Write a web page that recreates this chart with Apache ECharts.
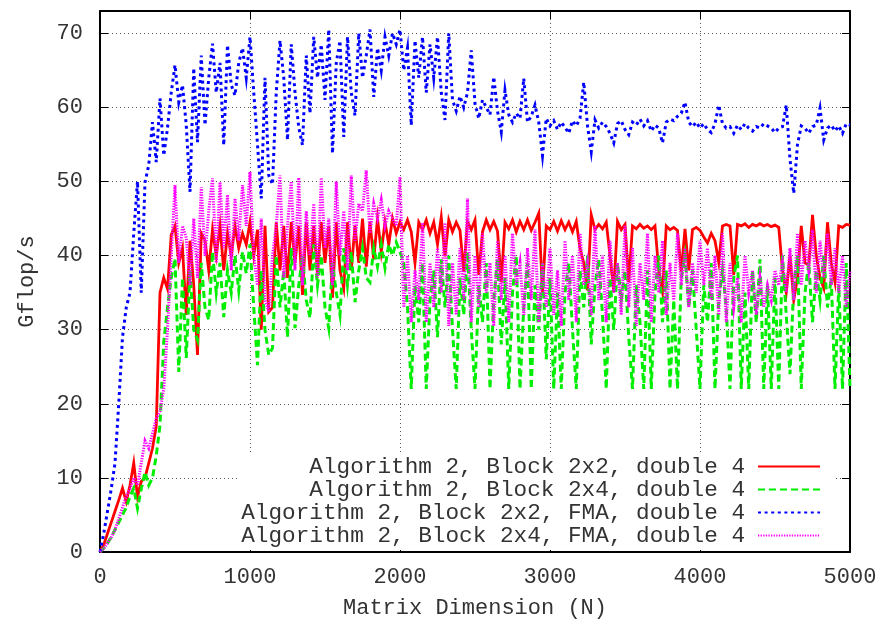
<!DOCTYPE html>
<html><head><meta charset="utf-8">
<script src="https://cdn.jsdelivr.net/npm/echarts@6/dist/echarts.min.js"></script>
<style>html,body{margin:0;padding:0;background:#fff}#c{width:883px;height:620px}</style>
</head><body><div id="c"></div>
<script>
// Matrix dimension N (x values)
const N = [
0,25,50,75,100,125,150,175,200,225,250,275,300,325,350,375,400,425,450,475,
500,525,550,575,600,625,650,675,700,725,750,775,800,825,850,875,900,925,950,975,
1000,1025,1050,1075,1100,1125,1150,1175,1200,1225,1250,1275,1300,1325,1350,1375,1400,1425,1450,1475,
1500,1525,1550,1575,1600,1625,1650,1675,1700,1725,1750,1775,1800,1825,1850,1875,1900,1925,1950,1975,
2000,2025,2050,2075,2100,2125,2150,2175,2200,2225,2250,2275,2300,2325,2350,2375,2400,2425,2450,2475,
2500,2525,2550,2575,2600,2625,2650,2675,2700,2725,2750,2775,2800,2825,2850,2875,2900,2925,2950,2975,
3000,3025,3050,3075,3100,3125,3150,3175,3200,3225,3250,3275,3300,3325,3350,3375,3400,3425,3450,3475,
3500,3525,3550,3575,3600,3625,3650,3675,3700,3725,3750,3775,3800,3825,3850,3875,3900,3925,3950,3975,
4000,4025,4050,4075,4100,4125,4150,4175,4200,4225,4250,4275,4300,4325,4350,4375,4400,4425,4450,4475,
4500,4525,4550,4575,4600,4625,4650,4675,4700,4725,4750,4775,4800,4825,4850,4875,4900,4925,4950,4975,
5000];

// Algorithm 2, Block 2x2, double 4
const block2x2 = [
0,1,2.5,4,5.5,7,8.6,6.8,9,12,7.5,9.5,10,12,14,17,35,37,35.5,42.8,
44,39,41,32,42,36,26.6,43,42,38,43.5,40,44,38,43,40,44,41,43,41.5,
44.5,40,43.5,30,44,32.4,33,44.5,38,44,37,44.5,39,44,34.7,44.5,38,44,37.5,44.5,
39,44,34.3,44.5,38,35.6,44.5,38,44,39,45,38.5,44.5,39.5,45,40.5,44.5,41.5,45,43,
44.5,43.5,44.8,43.2,39,44.5,43.5,44.8,43,44.5,41.5,45.2,39.9,44.8,43.2,44.5,43.4,37.8,44.6,43.5,
44.8,37.4,43.2,44.8,43.5,44.6,43.3,36.4,44.5,43.6,44.8,43.2,44.6,43.5,44.8,43.4,44.5,45.7,35.1,44,
43.5,44.6,43.3,44.7,43.5,44.5,43.2,44.6,41,39,35.3,45.5,43.5,44.2,43.6,44.5,40,35.1,44.6,43.5,
44.2,36.4,44,43.6,44.2,43.7,44,43.5,44,38,35.1,44,43.5,43.8,43.4,37.8,43.6,38,43.5,43.8,
43.4,42.5,41.7,43,42,39.1,44,44.2,44,37.4,44.2,44,44.3,43.8,44.2,44,44.3,44,44.2,43.9,
44.1,43.8,38,35,40,34,37,44,39,38.7,45.5,40,37,35.6,44.5,39,36.4,44,43.8,44.2,
44.1];

// Algorithm 2, Block 2x4, double 4
const block2x4 = [
0,0.5,1.2,2,3,4,5,6,7.5,8.6,5.9,8.5,10.8,9,10,13,17.1,28.3,33,37,
39.6,24.3,37,26.2,38,30,28.6,39,33,31.3,40.5,35,39,31.7,38,35,40,35.3,40.5,37.6,
41.5,33,25.2,38,30,26.6,27.5,40,33,38,29,41,30.2,36,40,34,31.6,41.5,36,40,
33,30.2,39,35,32,41,36,40.5,33.7,38,41,37,36.4,41,38.5,41.5,38.3,41.5,40,41.8,
40.5,39,33,22,36,31,39,22,34,38,29,39.5,33,40,30,22,37,32,40.5,30,
22,36,31,39,22,34,39.5,28,37,22,35,40,22,33,39,22,36,30,39,26,
37,22,35,22,35,39,30,22,38,33,40,28,36,39.5,32,22,37,30,39,34,
38,29,22,36,31,22,38,22,35,40,31,38,22,34,22,37,40,33,38,30,
22,36,31,39,22,34,38,33,22,37,40,22,35,22,38,31,39.5,22,36,22,
37,22,40,32,24,36,40,22,35,39,31,38,34,40,33,37,22,36,22,39,
22];

// Algorithm 2, Block 2x2, FMA, double 4
const block2x2fma = [
0,2.5,5.5,8.5,12,20,29,33,35,43,50,35,49.9,52.2,58,52.6,61.2,53.5,57.2,62,
65.7,60.7,63,57.6,48.6,65.3,55.3,67,57.6,64,68.6,62,66,54.9,68.4,63,61.6,66,68,64,
69.5,62,55,47.7,64,50.8,49.6,62,69,64,55.6,68.5,62,57.3,54.9,67,59.2,69.5,64,68.5,
61,70.5,53.8,66,69,56,69.5,62,58.9,70,64,67,70.5,61.4,68,65,69.5,67,70,68.5,
70.5,65,68,57.6,69,64,69.5,62,68.5,64,69.5,62,58.3,70,61,59.5,61.5,60,62,67.7,
60.5,58.5,61,60,59,64.1,59.5,56.7,62.3,59,58,59.2,58.5,63.9,58,58.8,60.3,58,53.5,58.5,
57.5,58.2,57,58,57.3,56.5,58.2,57.5,58.5,63.4,57.5,54,58.3,57.2,58,57.4,56.5,55.2,57.8,58.2,
57,56.3,58,57.6,58.4,57.5,58.2,56.8,57.6,57.2,55.2,58,58.4,58.2,58.8,59.2,60.7,58,57.4,58,
57.2,57.8,57,56.6,57.8,60.3,57.8,57.2,57.4,56.5,57.6,57,57.8,57.2,56.8,57.4,57.2,57.8,57.5,57.2,
56.6,57.2,57.4,60.3,53,48.4,55,57.5,57.2,56.5,57.4,57.6,59.9,55.6,57.2,57.6,56.8,57.5,56.5,57.8,
57.6];

// Algorithm 2, Block 2x4, FMA, double 4
const block2x4fma = [
0,0.5,1.2,2,3,4.5,6,7.5,8.5,10,9,12,15,14,16,18,19,22,30,40,
49.5,39,44,42.4,36,45,37,49.2,40,46,50.4,39,49.9,41,48.2,38,47.7,42,49.5,44,
51.3,40,36,45,34,32.4,40,44,50.8,37,44,50,38,50.5,36,46,40,47,37,50.5,
41,45,36,50,40,46,38,50.8,42,47,46,51.5,43,47,45,47.5,44,46,45,44,
50.6,33,40,31,38,34,44.4,31,39,33,41,35,44.4,30.5,39,32,41,34,47.7,31,
40,33,43,35,39,30.5,42,34,40,31,43,36,39,32,41,34,43.5,31,39,33,
41,32,38,30.5,42,34,40,31,43,36,39,32,44,34,40,31,42,35,39,32,
44,33,41,30.5,39,34,43,31,40,35,42,32,39,34,43,36,41,33,39,35,
42,36,41,34,40,32,43,31,39,33,37,31,40,35,38,32,37,33,36,34,
38,36,39,35,41,34,43,36,42,38,43.5,35,42,37,43,36,41,35,40,33,
38];

const seriesNames = [
  'Algorithm 2, Block 2x2, double 4',
  'Algorithm 2, Block 2x4, double 4',
  'Algorithm 2, Block 2x2, FMA, double 4',
  'Algorithm 2, Block 2x4, FMA, double 4'
];
const seriesValues = [block2x2, block2x4, block2x2fma, block2x4fma];
const xLabel = 'Matrix Dimension (N)';
const yLabel = 'Gflop/s';

const FONT = 'Liberation Mono';
const TXT = '#333';
const colors = ['#ff0000', '#00ee00', '#0000ff', '#ff00ff'];
const dashes = ['solid', [7, 4], [3, 3.6], [1.3, 1.3]];
const widths = [2.8, 3, 3, 3];

const chart = echarts.init(document.getElementById('c'), null, {renderer: 'canvas'});
const gridLine = {show: true, lineStyle: {color: '#555', type: [1, 3], width: 1}};
const frame = {show: true, onZero: false, lineStyle: {color: '#000', width: 2}};
const tick = {show: true, inside: true, length: 8, lineStyle: {color: '#000', width: 1}};
const labelStyle = {fontFamily: FONT, fontSize: 22, color: TXT};

const option = {
  animation: false,
  backgroundColor: '#fff',
  grid: {left: 100, right: 33, top: 11, bottom: 68, outerBoundsMode: 'none', containLabel: false},
  legend: {
    orient: 'vertical', align: 'right', right: 50, top: 455,
    itemWidth: 62, itemHeight: 12, itemGap: 0,
    padding: [0, 12, 3, 2], backgroundColor: '#fff',
    itemStyle: {opacity: 0},
    textStyle: {fontFamily: FONT, fontSize: 22.7, color: TXT, lineHeight: 22.7, padding: [0, 8, 0, 0]},
    data: seriesNames, z: 10
  },
  xAxis: [
    {type: 'value', min: 0, max: 5000, interval: 1000, position: 'bottom',
     axisLine: frame, axisTick: tick, splitLine: gridLine,
     axisLabel: Object.assign({margin: 14, formatter: v => String(v)}, labelStyle),
     name: xLabel, nameLocation: 'middle', nameGap: 45, nameTextStyle: labelStyle},
    {type: 'value', min: 0, max: 5000, interval: 1000, position: 'top',
     axisLine: frame, axisTick: tick, splitLine: {show: false}, axisLabel: {show: false}}
  ],
  yAxis: [
    {type: 'value', min: 0, max: 73, interval: 10, position: 'left',
     axisLine: frame, axisTick: tick, splitLine: gridLine,
     axisLabel: Object.assign({margin: 17, showMaxLabel: false}, labelStyle),
     name: yLabel, nameLocation: 'middle', nameGap: 62, nameTextStyle: labelStyle},
    {type: 'value', min: 0, max: 73, interval: 10, position: 'right',
     axisLine: frame, axisTick: tick, splitLine: {show: false}, axisLabel: {show: false}}
  ],
  series: seriesNames.map((name, k) => ({
    name: name, type: 'line', xAxisIndex: 0, yAxisIndex: 0,
    data: N.map((n, i) => [n, seriesValues[k][i]]),
    showSymbol: false, symbol: 'none',
    color: colors[k],
    lineStyle: {color: colors[k], width: widths[k], type: dashes[k], cap: 'butt', join: 'miter'}
  }))
};
chart.setOption(option);
</script></body></html>
